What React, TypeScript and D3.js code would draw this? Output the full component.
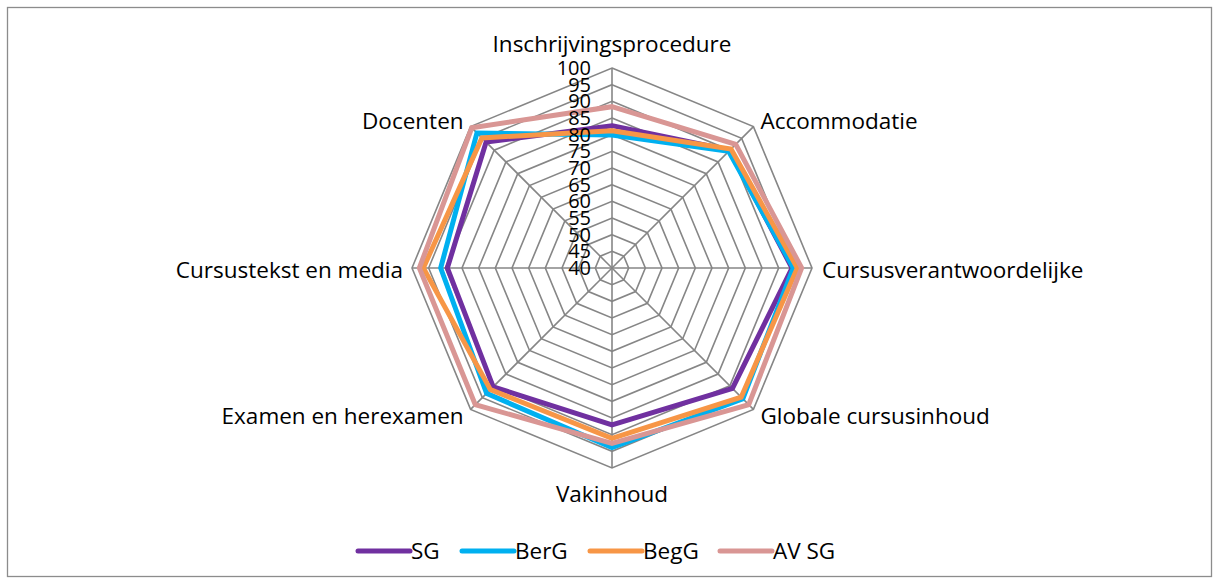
import React, { useEffect, useRef } from "react";
import * as d3 from "d3";

const axes = [
  "Inschrijvingsprocedure",
  "Accommodatie",
  "Cursusverantwoordelijke",
  "Globale cursusinhoud",
  "Vakinhoud",
  "Examen en herexamen",
  "Cursustekst en media",
  "Docenten",
];

const seriesNames = ["SG", "BerG", "BegG", "AV SG"];
const sgValues = [82.7, 90, 94, 91.1, 87.1, 90.4, 89.4, 93.4];
const bergValues = [79.9, 89.5, 94.4, 95.5, 93.9, 93.2, 91.4, 97.3];
const beggValues = [81.2, 90.5, 95.6, 94.8, 91.1, 91.6, 96.6, 95.2];
const avsgValues = [88.4, 92.5, 96.9, 98, 92.6, 98, 97.8, 99.5];
const colors = ["#7030A0", "#00B0F0", "#F79646", "#D99694"];
const ticks = [40, 45, 50, 55, 60, 65, 70, 75, 80, 85, 90, 95, 100];

const App = () => {
  const ref = useRef<SVGSVGElement>(null);

  useEffect(() => {
    const width = 1219;
    const height = 583;
    const cx = 612;
    const cy = 268;
    const radius = 200;
    const font = "'Open Sans', 'Liberation Sans', sans-serif";

    const svg = d3.select(ref.current);
    svg.selectAll("*").remove();
    svg.attr("width", width).attr("height", height);

    svg.append("rect")
      .attr("x", 7.5).attr("y", 7.5)
      .attr("width", 1204).attr("height", 569)
      .attr("fill", "white")
      .attr("stroke", "#8c8c8c")
      .attr("stroke-width", 1.3);

    const r = d3.scaleLinear().domain([40, 100]).range([0, radius]);
    const angle = (i: number) => (i * 2 * Math.PI) / axes.length;
    const pt = (i: number, v: number): [number, number] => [
      cx + r(v) * Math.sin(angle(i)),
      cy - r(v) * Math.cos(angle(i)),
    ];

    const g = svg.append("g");

    // grid rings
    const ring = d3.line<[number, number]>().curve(d3.curveLinearClosed);
    ticks.forEach((t) => {
      g.append("path")
        .attr("d", ring(axes.map((_, i) => pt(i, t))))
        .attr("fill", "none")
        .attr("stroke", "#868686")
        .attr("stroke-width", 1.6);
    });
    // spokes
    axes.forEach((_, i) => {
      const [x, y] = pt(i, 100);
      g.append("line")
        .attr("x1", cx).attr("y1", cy)
        .attr("x2", x).attr("y2", y)
        .attr("stroke", "#868686")
        .attr("stroke-width", 1.6);
    });

    // series
    const all = [sgValues, bergValues, beggValues, avsgValues];
    all.forEach((vals, s) => {
      g.append("path")
        .attr("d", ring(vals.map((v, i) => pt(i, v))))
        .attr("fill", "none")
        .attr("stroke", colors[s])
        .attr("stroke-width", 5)
        .attr("stroke-linejoin", "miter");
    });

    // tick labels
    ticks.forEach((t) => {
      g.append("text")
        .attr("x", cx - 21)
        .attr("y", cy - r(t))
        .attr("dy", "0.35em")
        .attr("text-anchor", "end")
        .style("font-family", font)
        .style("font-size", "20px")
        .style("fill", "#000")
        .text(t);
    });

    // axis labels
    axes.forEach((name, i) => {
      const [x, y] = pt(i, 100);
      const s = Math.sin(angle(i));
      const c = Math.cos(angle(i));
      let anchor = "middle";
      let lx = x;
      let ly = y;
      if (Math.abs(s) < 0.01) {
        ly = c > 0 ? y - 24 : y + 26;
      } else if (Math.abs(c) < 0.01) {
        anchor = s > 0 ? "start" : "end";
        lx = x + (s > 0 ? 10 : -9);
        ly = y + 2;
      } else {
        anchor = s > 0 ? "start" : "end";
        lx = x + (s > 0 ? 7 : -7);
        ly = c > 0 ? y - 5 : y + 7;
      }
      g.append("text")
        .attr("x", lx)
        .attr("y", ly)
        .attr("dy", "0.35em")
        .attr("text-anchor", anchor)
        .style("font-family", font)
        .style("font-size", "22.5px")
        .style("fill", "#000")
        .text(name);
    });

    // legend
    const legendX = [358, 462, 590, 720];
    const legend = svg.append("g");
    seriesNames.forEach((name, s) => {
      const x0 = legendX[s];
      legend.append("line")
        .attr("x1", x0).attr("y1", 551)
        .attr("x2", x0 + 52).attr("y2", 551)
        .attr("stroke", colors[s])
        .attr("stroke-width", 5)
        .attr("stroke-linecap", "round");
      legend.append("text")
        .attr("x", x0 + 53)
        .attr("y", 551)
        .attr("dy", "0.35em")
        .style("font-family", font)
        .style("font-size", "22.5px")
        .style("fill", "#000")
        .text(name);
    });
  }, []);

  return (
    <svg
      ref={ref}
      style={{ position: "absolute", left: 0, top: 0, display: "block" }}
    ></svg>
  );
};

export default App;
